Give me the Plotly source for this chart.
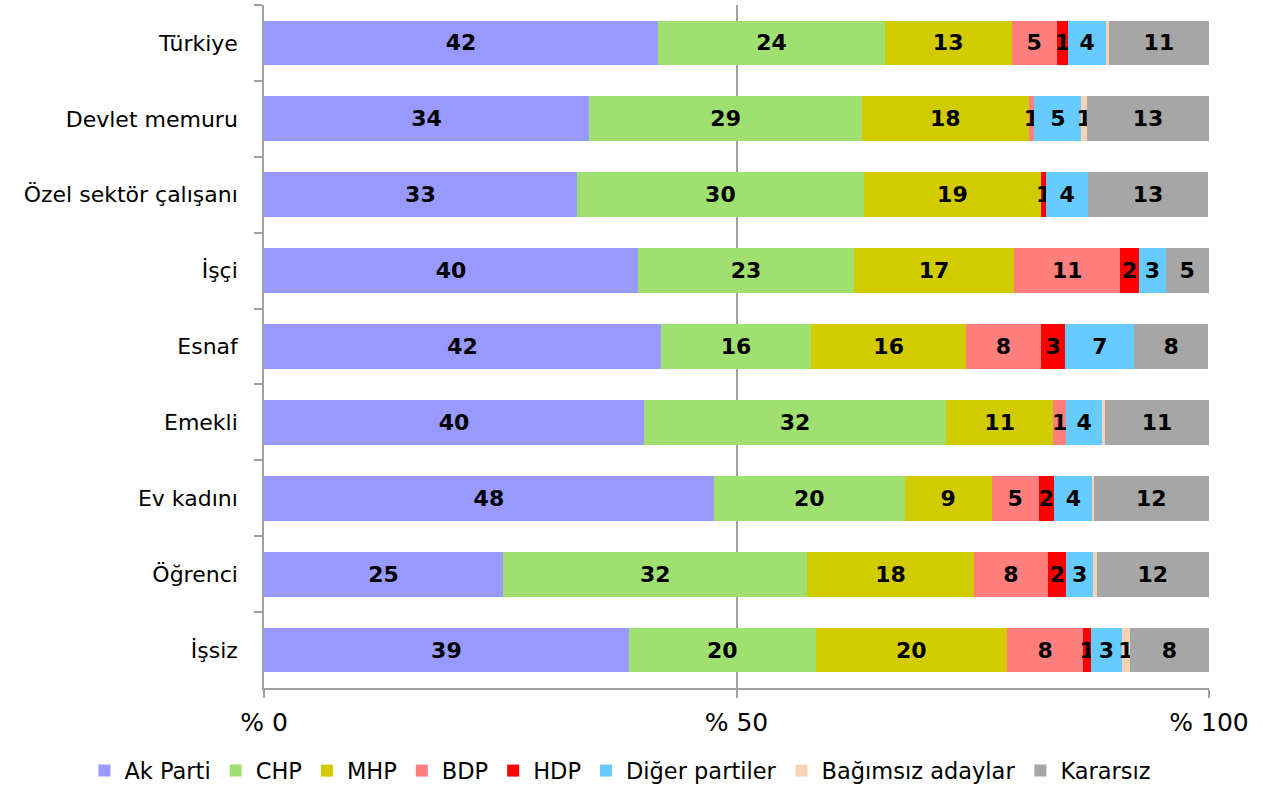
import plotly.graph_objects as go

# Meslek gruplarına göre oy dağılımı (%)
categories = ["Türkiye", "Devlet memuru", "Özel sektör çalışanı", "İşçi", "Esnaf",
              "Emekli", "Ev kadını", "Öğrenci", "İşsiz"]

ak_parti = [41.7, 34.4, 33.1, 39.6, 42.0, 40.2, 47.6, 25.3, 38.6]
chp = [24.0, 28.9, 30.4, 22.8, 15.9, 32.0, 20.2, 32.2, 19.8]
mhp = [13.4, 17.6, 18.7, 17.0, 16.4, 11.3, 9.2, 17.6, 20.2]
bdp = [4.8, 0.6, 0.0, 11.2, 7.9, 1.4, 5.0, 7.9, 8.1]
hdp = [1.2, 0.0, 0.6, 2.0, 2.6, 0.0, 1.6, 1.9, 0.8]
diger = [4.0, 5.0, 4.4, 2.8, 7.3, 3.8, 4.1, 2.8, 3.3]
bagimsiz = [0.3, 0.6, 0.0, 0.0, 0.0, 0.3, 0.1, 0.4, 0.8]
kararsiz = [10.6, 12.9, 12.7, 4.6, 7.8, 11.0, 12.2, 11.9, 8.4]

series = [
    ("Ak Parti", ak_parti, "#9999FF"),
    ("CHP", chp, "#A0E070"),
    ("MHP", mhp, "#D2CB00"),
    ("BDP", bdp, "#FF7F7F"),
    ("HDP", hdp, "#FF0000"),
    ("Diğer partiler", diger, "#66CCFF"),
    ("Bağımsız adaylar", bagimsiz, "#FBD3B4"),
    ("Kararsız", kararsiz, "#A6A6A6"),
]

xticks = [0, 50, 100]
xtick_labels = ["% 0", "% 50", "% 100"]

AXIS_GRAY = "#A0A0A0"

fig = go.Figure()
for name, vals, color in series:
    labels = [f"{v:.0f}" if round(v) >= 1 else "" for v in vals]
    fig.add_trace(go.Bar(
        y=categories, x=vals, name=name, orientation="h",
        marker=dict(color=color, line=dict(width=0)),
        text=labels, textposition="inside", insidetextanchor="middle",
        textangle=0,
        textfont=dict(family="DejaVu Sans", size=22, color="black", weight="bold"),
        hoverinfo="x+name",
    ))

fig.update_layout(
    barmode="stack",
    bargap=0.41,
    width=1263, height=787,
    margin=dict(l=264, r=54, t=5, b=99, autoexpand=False),
    plot_bgcolor="white", paper_bgcolor="white",
    font=dict(family="DejaVu Sans", size=22, color="black"),
    uniformtext=dict(minsize=22, mode="show"),
    legend=dict(orientation="h", x=-0.19, xanchor="left",
                y=-0.09, yanchor="top",
                font=dict(size=22.5), itemwidth=30, traceorder="normal"),
    showlegend=True,
)

fig.update_xaxes(
    range=[0, 100], tickvals=xticks, ticktext=xtick_labels,
    tickfont=dict(size=25),
    showgrid=True, gridcolor=AXIS_GRAY, gridwidth=1.5,
    showline=True, linecolor=AXIS_GRAY, linewidth=1.5,
    ticks="outside", ticklen=8, tickcolor=AXIS_GRAY, tickwidth=1.5,
    zeroline=False, ticklabelstandoff=3,
)
fig.update_yaxes(
    autorange="reversed", type="category",
    showline=True, linecolor=AXIS_GRAY, linewidth=1.5,
    ticks="outside", tickson="boundaries", ticklen=8, tickcolor=AXIS_GRAY, tickwidth=1.5,
    showgrid=False, ticklabelstandoff=20,
)

# sayfa kenar boşluğunu kaldır
fig.write_html("out.html", config={"displayModeBar": False},
               post_script="document.body.style.margin='0';")
